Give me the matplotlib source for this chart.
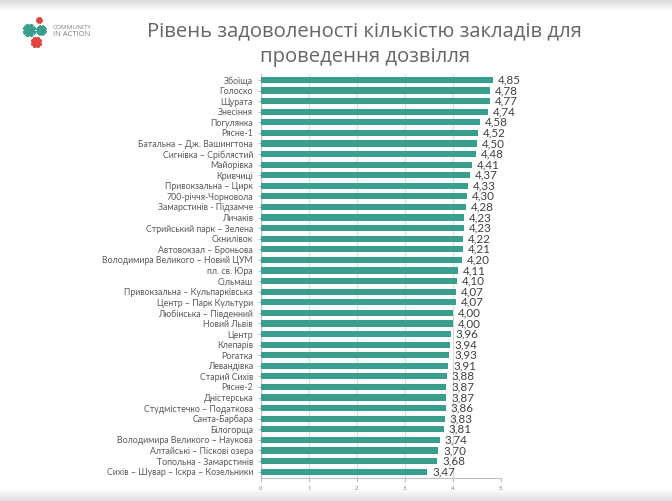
import numpy as np
import matplotlib.pyplot as plt
from matplotlib.patches import Circle

plt.rcParams['font.family'] = ['Open Sans', 'DejaVu Sans']

title = 'Рівень задоволеності кількістю закладів для\nпроведення дозвілля'

districts = [
    'Збоїща', 'Голоско', 'Щурата', 'Знесіння', 'Погулянка', 'Рясне-1',
    'Батальна – Дж. Вашингтона', 'Сигнівка – Сріблястий', 'Майорівка',
    'Кривчиці', 'Привокзальна – Цирк', '700-річчя-Чорновола',
    'Замарстинів - Підзамче', 'Личаків', 'Стрийський парк – Зелена',
    'Скнилівок', 'Автовокзал – Броньова', 'Володимира Великого – Новий ЦУМ',
    'пл. св. Юра', 'Сільмаш', 'Привокзальна – Кульпарківська',
    'Центр – Парк Культури', 'Любінська – Південний', 'Новий Львів',
    'Центр', 'Клепарів', 'Рогатка', 'Левандівка', 'Старий Сихів', 'Рясне-2',
    'Дністерська', 'Студмістечко – Податкова', 'Санта-Барбара', 'Білогорща',
    'Володимира Великого – Наукова', 'Алтайські – Піскові озера',
    'Топольна - Замарстинів', 'Сихів – Шувар – Іскра – Козельники',
]
scores = [
    4.85, 4.78, 4.77, 4.74, 4.58, 4.52, 4.50, 4.48, 4.41, 4.37, 4.33, 4.30,
    4.28, 4.23, 4.23, 4.22, 4.21, 4.20, 4.11, 4.10, 4.07, 4.07, 4.00, 4.00,
    3.96, 3.94, 3.93, 3.91, 3.88, 3.87, 3.87, 3.86, 3.83, 3.81, 3.74, 3.70,
    3.68, 3.47,
]
xticks = [0, 1, 2, 3, 4, 5]

bar_color = '#3a9e8c'
grey = '#bfbfbf'

fig = plt.figure(figsize=(6.72, 5.01), dpi=100)

# soft grey bands at top and bottom of the screenshot
bg = fig.add_axes([0, 0, 1, 1], zorder=-10)
grad = np.ones((501, 1))
grad[:12, 0] = np.linspace(0.86, 1.0, 12)
grad[488:, 0] = np.linspace(1.0, 0.88, 13)
bg.imshow(grad, cmap='gray', vmin=0, vmax=1, aspect='auto', extent=[0, 1, 0, 1])
bg.axis('off')

ax = fig.add_axes([0.388, 0.0465, 0.357, 0.806])
y = np.arange(len(districts))
ax.barh(y, scores, height=0.58, color=bar_color, zorder=3)
for yi, v in zip(y, scores):
    ax.text(v + 0.1, yi, f'{v:.2f}'.replace('.', ','), va='center', ha='left',
            fontsize=8.4, color='#404040', family=['Lato', 'DejaVu Sans'])

ax.set_xlim(0, 5)
ax.set_ylim(len(districts) - 0.43, -0.57)
ax.set_yticks(y)
ax.set_yticklabels(districts, fontsize=6.3, color='#595959',
                   family=['Lato', 'DejaVu Sans'])
ax.set_xticks(xticks)
ax.set_xticklabels([str(t) for t in xticks], fontsize=4.5, color='#808080')
ax.tick_params(axis='y', length=2.5, color=grey, pad=3)
ax.tick_params(axis='x', length=3, color=grey, pad=3)
ax.grid(axis='x', color='#d9d9d9', linewidth=0.8, zorder=0)
for s in ['top', 'right']:
    ax.spines[s].set_visible(False)
for s in ['left', 'bottom']:
    ax.spines[s].set_color(grey)
    ax.spines[s].set_linewidth(0.8)

fig.text(0.543, 0.912, title, ha='center', va='center', fontsize=14.6,
         color='#666666', linespacing=1.35)

# logo
lg = fig.add_axes([0, 0, 1, 1], zorder=5)
lg.set_xlim(0, 672)
lg.set_ylim(501, 0)
lg.axis('off')
gears = [(28.7, 29.5, 6.3, '#3a9e8c'), (40.7, 30, 5.0, '#3a9e8c'),
         (38.7, 19.8, 3.0, '#e0463f'), (36, 41.5, 5.3, '#e0463f')]
for gx, gy, r, c in gears:
    lg.plot(gx, gy, marker=(8, 2, 22.5), markersize=r * 1.5, color=c,
            markeredgecolor=c, markeredgewidth=r * 0.4, linestyle='none')
    lg.add_patch(Circle((gx, gy), r * 0.75, facecolor=c, edgecolor='none'))
    lg.add_patch(Circle((gx, gy), r * 0.48, facecolor='white', edgecolor='none'))
lg.text(53, 27, 'COMMUNITY', fontsize=4.6, color='#808080', va='center')
lg.text(53, 34.5, 'IN ACTION', fontsize=5.4, color='#808080', va='center')

fig.savefig('out.png', dpi=100)
